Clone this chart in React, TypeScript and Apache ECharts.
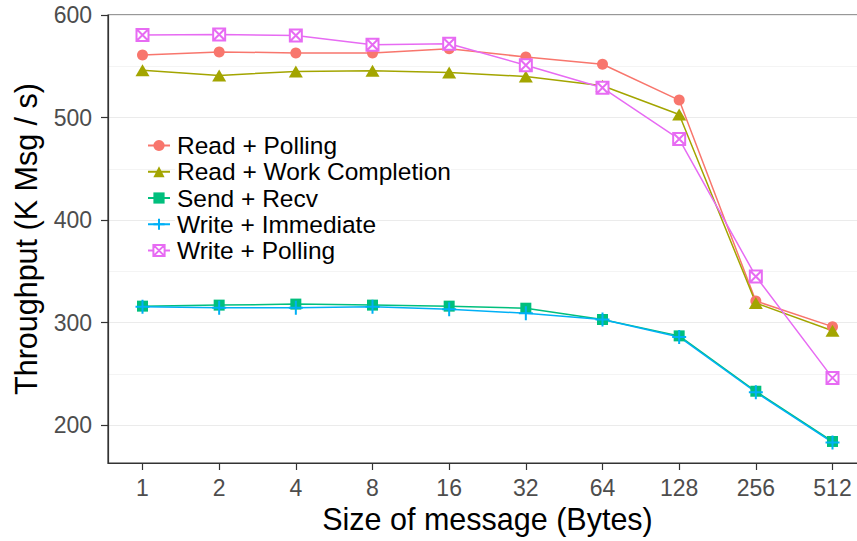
import React, { useEffect, useRef } from "react";
import * as echarts from "echarts";

// Message sizes in bytes (log2-spaced positions on the x axis)
const sizes = ["1", "2", "4", "8", "16", "32", "64", "128", "256", "512"];

// Throughput in thousands of messages per second
const readPolling = [561, 564, 563, 563, 567, 559, 552, 517, 321, 296];
const readWorkCompletion = [546, 541, 545, 545.5, 544, 540, 531, 503, 319, 292];
const sendRecv = [316, 317, 318, 317, 316, 314, 303, 287, 233, 184];
const writeImmediate = [315.5, 314.5, 314.5, 315.5, 313, 309, 303, 286, 232, 183];
const writePolling = [580.5, 581, 580, 571, 572, 551, 529, 479, 345, 246];

const yMajorTicks = [200, 300, 400, 500, 600];
const yMinorTicks = [250, 350, 450, 550];

const seriesNames = [
  "Read + Polling",
  "Read + Work Completion",
  "Send + Recv",
  "Write + Immediate",
  "Write + Polling",
];

const FONT = "'Liberation Sans', Arial, Helvetica, sans-serif";

const toPoints = (vals: number[]) => vals.map((v, i) => [i, v]);

export default function App() {
  const ref = useRef<HTMLDivElement>(null);

  useEffect(() => {
    if (!ref.current) return;
    const chart = echarts.init(ref.current, undefined, { renderer: "svg" });

    const line = (
      name: string,
      color: string,
      vals: number[],
      symbol: string,
      symbolSize: number | number[],
      itemStyle: any
    ) => ({
      name,
      type: "line",
      data: toPoints(vals),
      symbol,
      symbolSize,
      showAllSymbol: true,
      lineStyle: { color, width: 1.5 },
      itemStyle,
      emphasis: { disabled: true },
    });

    chart.setOption({
      animation: false,
      backgroundColor: "#ffffff",
      textStyle: { fontFamily: FONT },
      grid: {
        left: 108,
        top: 15,
        width: 759,
        height: 448,
        outerBoundsMode: "none",
        containLabel: false,
        show: true,
        borderColor: "#333333",
        borderWidth: 1.2,
        backgroundColor: "transparent",
      },
      legend: {
        orient: "vertical",
        left: 147,
        top: 133,
        padding: 0,
        itemWidth: 22,
        itemHeight: 14,
        itemGap: 1.25,
        data: seriesNames,
        textStyle: {
          fontFamily: FONT,
          fontSize: 24.5,
          color: "#000000",
          lineHeight: 24,
          backgroundColor: "#ffffff",
          padding: [0, 0, 0, 2],
        },
      },
      xAxis: {
        type: "value",
        min: -0.45,
        max: 9.45,
        name: "Size of message (Bytes)",
        nameLocation: "middle",
        nameGap: 38,
        nameTextStyle: { fontFamily: FONT, fontSize: 30.5, color: "#000000" },
        axisLine: {
          show: true,
          onZero: false,
          lineStyle: { color: "#333333", width: 1.2 },
        },
        axisTick: {
          show: true,
          length: 7,
          customValues: sizes.map((_, i) => i),
          lineStyle: { color: "#333333", width: 1.2 },
        },
        axisLabel: {
          customValues: sizes.map((_, i) => i),
          formatter: (v: number) => sizes[Math.round(v)] ?? "",
          fontFamily: FONT,
          fontSize: 23,
          color: "#4d4d4d",
          margin: 13,
        },
        splitLine: { show: false },
      },
      yAxis: [
        {
          type: "value",
          min: 163,
          max: 600,
          name: "Throughput (K Msg / s)",
          nameLocation: "middle",
          nameGap: 67,
          nameTextStyle: { fontFamily: FONT, fontSize: 30.5, color: "#000000" },
          axisLine: {
            show: true,
            onZero: false,
            lineStyle: { color: "#333333", width: 1.2 },
          },
          axisTick: {
            show: true,
            length: 7,
            customValues: yMajorTicks,
            lineStyle: { color: "#333333", width: 1.2 },
          },
          axisLabel: {
            customValues: yMajorTicks,
            fontFamily: FONT,
            fontSize: 23,
            color: "#4d4d4d",
            margin: 16,
          },
          splitLine: { show: true, lineStyle: { color: "#ebebeb", width: 1 } },
        },
        {
          type: "value",
          min: 163,
          max: 600,
          axisLine: { show: false, onZero: false },
          axisTick: { show: false, customValues: yMinorTicks },
          axisLabel: { show: false, customValues: yMinorTicks },
          splitLine: { show: true, lineStyle: { color: "#f4f4f4", width: 1 } },
        },
      ],
      series: [
        line(seriesNames[0], "#F8766D", readPolling, "circle", 11, {
          color: "#F8766D",
        }),
        line(seriesNames[1], "#A3A500", readWorkCompletion, "triangle", [14, 12], {
          color: "#A3A500",
        }),
        line(seriesNames[2], "#00BF7D", sendRecv, "rect", 11, {
          color: "#00BF7D",
        }),
        line(
          seriesNames[3],
          "#00B0F6",
          writeImmediate,
          "emptypath://M5,0V10M0,5H10",
          14,
          { color: "#00B0F6", borderColor: "#00B0F6", borderWidth: 1.3 }
        ),
        line(
          seriesNames[4],
          "#E76BF3",
          writePolling,
          "emptypath://M0,0H10V10H0ZM0,0L10,10M10,0L0,10",
          12,
          { color: "#E76BF3", borderColor: "#E76BF3", borderWidth: 1.2 }
        ),
      ],
    });

    return () => chart.dispose();
  }, []);

  return (
    <div
      ref={ref}
      style={{ position: "fixed", left: 0, top: 0, width: 857, height: 541 }}
    />
  );
}
